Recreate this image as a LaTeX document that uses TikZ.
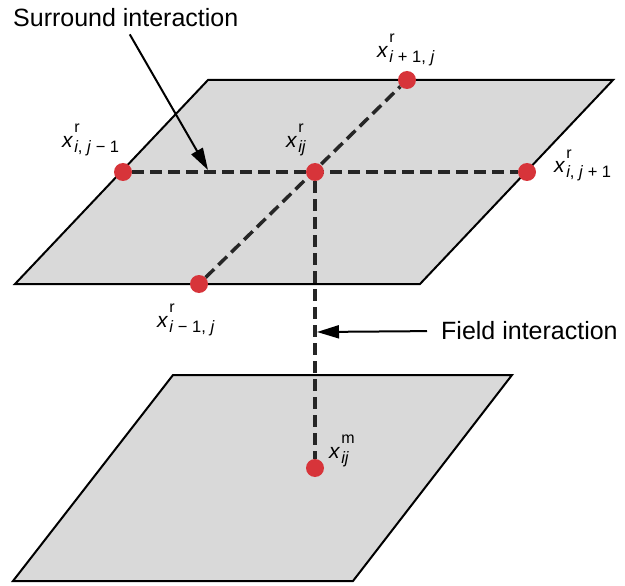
\documentclass[tikz,border=0pt]{standalone}
\usepackage{fontspec}
\setmainfont{Liberation Sans}
\usetikzlibrary{arrows.meta,positioning,backgrounds}
\definecolor{cplane}{HTML}{D9D9D9}
\definecolor{csite}{HTML}{D7343A}
\newcommand{\varx}[2]{\textit{x}\kern1pt\raisebox{15pt}{\rlap{\fontsize{16}{16}\selectfont #1}}\raisebox{-5pt}{\fontsize{16.5}{16}\selectfont #2}}
\tikzset{
  plane/.style={fill=cplane, draw=black, line width=2pt},
  site/.style={circle, fill=csite, inner sep=0pt, minimum size=18pt},
  link/.style={draw=black!85, line width=3.5pt, dash pattern=on 12pt off 6pt},
  vlab/.style={inner sep=0pt, anchor=base west, font=\fontsize{21}{21}\selectfont},
  txt/.style={inner sep=0pt, font=\fontsize{25}{25}\selectfont},
  flow/.style={-{Triangle[length=22pt,width=13pt]}, line width=2pt},
}
\begin{document}
\begin{tikzpicture}[x=1pt, y=-1pt]
  \useasboundingbox (0,0) rectangle (625,586);
  \node[site] (c) at (315,172) {};
  \node[site] (l) at (123,172) {};
  \node[site] (rt) at (527,172) {};
  \node[site] (up) at (407,80) {};
  \node[site] (dn) at (199,284) {};
  \node[site] (m) at (315,468) {};
  \begin{scope}[on background layer]
    \draw[plane] (173,375) -- (512,375) -- (353,581) -- (13,581) -- cycle;
    \draw[plane] (208,80) -- (613,80) -- (420,284) -- (15,284) -- cycle;
    \draw[link] (l) -- (rt);
    \draw[link] (dn) -- (up);
    \draw[link] (c) -- (m);
  \end{scope}
  \node[vlab] (lbl) at (62,148) {\varx{r}{\textit{i}, \textit{j} − 1}};
  \node[vlab] (lbc) at (286,148) {\varx{r}{\textit{ij}}};
  \node[vlab] (lbu) at (377,58) {\varx{r}{\textit{i} + 1, \textit{j}}};
  \node[vlab] (lbr) at (554,173) {\varx{r}{\textit{i}, \textit{j} + 1}};
  \node[vlab] (lbd) at (157,327) {\varx{r}{\textit{i} − 1, \textit{j}}};
  \node[vlab] (lbm) at (329,458) {\varx{m}{\textit{ij}}};
  \node[txt, anchor=base west] (surr) at (13,27) {Surround interaction};
  \node[txt, anchor=west] (field) at (441,331) {Field interaction};
  \coordinate (sa) at (208,170);
  \coordinate (fa) at (317,332);
  \draw[flow, shorten <=8pt] (surr.south) -- (sa);
  \draw[flow, shorten <=14pt] (field.west) -- (fa);
\end{tikzpicture}
\end{document}
